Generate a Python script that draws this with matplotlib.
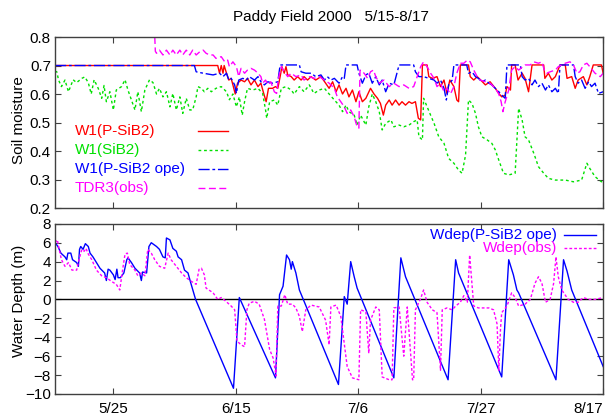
import numpy as np
import matplotlib.pyplot as plt

plt.rcParams['font.family'] = ['Liberation Sans', 'DejaVu Sans']
plt.rcParams['font.size'] = 11

# x values are days since 5/15
tick_days = [10, 31, 52, 73, 94]
tick_labels = ['5/25', '6/15', '7/6', '7/27', '8/17']

# soil moisture, W1(P-SiB2)
w1_psib2 = np.array([
    (0, 0.70), (27.9, 0.70), (28.2, 0.673), (28.5, 0.70), (28.8, 0.673), (29.0, 0.70),
    (29.4, 0.673), (29.8, 0.649), (30.2, 0.655), (30.5, 0.632), (30.9, 0.60), (31.3, 0.638),
    (31.9, 0.649), (32.5, 0.643), (33.0, 0.655), (33.6, 0.632), (34.2, 0.649), (34.8, 0.626),
    (35.3, 0.638), (35.7, 0.608), (36.2, 0.573), (36.6, 0.62), (37.3, 0.62), (37.8, 0.626),
    (38.2, 0.62), (38.6, 0.661), (38.9, 0.696), (39.3, 0.673), (39.6, 0.696), (39.9, 0.667),
    (40.5, 0.661), (41.0, 0.649), (41.6, 0.661), (42.2, 0.649), (42.7, 0.661), (43.3, 0.649),
    (43.9, 0.661), (44.7, 0.649), (45.6, 0.661), (46.4, 0.638), (47.0, 0.62), (47.6, 0.643),
    (48.2, 0.608), (48.7, 0.632), (49.3, 0.60), (49.9, 0.62), (50.4, 0.59), (51.0, 0.614),
    (51.6, 0.573), (52.1, 0.608), (52.7, 0.573), (53.3, 0.585), (54.1, 0.62), (54.7, 0.60),
    (55.3, 0.585), (55.8, 0.567), (56.3, 0.526), (56.7, 0.561), (57.3, 0.579), (57.8, 0.561),
    (58.4, 0.579), (59.0, 0.561), (59.5, 0.573), (60.1, 0.561), (60.7, 0.573), (61.2, 0.567),
    (61.8, 0.573), (62.3, 0.515), (62.7, 0.509), (63.0, 0.702), (63.8, 0.702), (64.1, 0.661),
    (64.7, 0.655), (65.5, 0.661), (66.1, 0.626), (66.7, 0.649), (67.2, 0.602), (67.7, 0.649),
    (68.4, 0.626), (68.9, 0.579), (69.2, 0.573), (69.5, 0.702), (70.9, 0.702), (71.2, 0.661),
    (71.8, 0.649), (72.4, 0.661), (73.0, 0.649), (73.8, 0.632), (74.6, 0.643), (75.5, 0.62),
    (76.1, 0.602), (76.6, 0.59), (77.2, 0.596), (77.5, 0.626), (78.1, 0.614), (78.3, 0.702),
    (78.9, 0.702), (79.4, 0.649), (80.1, 0.673), (80.6, 0.655), (81.2, 0.608), (81.8, 0.702),
    (83.8, 0.702), (84.0, 0.655), (84.6, 0.673), (85.2, 0.649), (85.8, 0.661), (86.6, 0.702),
    (87.5, 0.702), (87.8, 0.655), (88.6, 0.661), (89.2, 0.62), (89.7, 0.649), (90.6, 0.661),
    (91.2, 0.632), (91.7, 0.661), (92.3, 0.702), (93.7, 0.702), (94.0, 0.673),
])

# soil moisture, W1(SiB2)
w1_sib2 = np.array([
    (0, 0.68), (0.3, 0.678), (0.6, 0.649), (1.1, 0.626), (1.7, 0.649), (2.3, 0.608),
    (3.1, 0.65), (3.7, 0.64), (4.6, 0.655), (5.1, 0.66), (5.7, 0.64), (6.2, 0.60),
    (6.7, 0.65), (7.4, 0.62), (8.0, 0.585), (8.4, 0.63), (8.8, 0.573), (9.4, 0.608),
    (10.0, 0.544), (10.5, 0.614), (11.4, 0.626), (12.0, 0.65), (12.5, 0.614), (13.1, 0.579),
    (13.7, 0.544), (14.2, 0.608), (14.8, 0.538), (15.4, 0.614), (16.2, 0.65), (16.8, 0.64),
    (17.4, 0.60), (17.9, 0.62), (18.5, 0.59), (19.1, 0.608), (19.7, 0.555), (20.2, 0.602),
    (20.8, 0.544), (21.4, 0.59), (21.9, 0.532), (22.5, 0.585), (23.1, 0.544), (23.6, 0.544),
    (24.2, 0.59), (24.5, 0.626), (25.1, 0.62), (25.6, 0.608), (26.2, 0.62), (26.8, 0.608),
    (27.6, 0.62), (28.5, 0.626), (29.4, 0.608), (29.9, 0.58), (30.5, 0.60), (31.1, 0.555),
    (31.6, 0.59), (32.1, 0.526), (32.5, 0.573), (33.0, 0.62), (33.9, 0.614), (34.8, 0.62),
    (35.6, 0.602), (36.1, 0.544), (36.3, 0.515), (36.8, 0.573), (37.6, 0.579), (38.2, 0.561),
    (38.8, 0.62), (39.6, 0.626), (40.5, 0.614), (41.0, 0.60), (41.9, 0.626), (42.7, 0.608),
    (43.6, 0.632), (44.4, 0.602), (45.3, 0.614), (46.2, 0.62), (47.0, 0.60), (47.9, 0.579),
    (48.7, 0.561), (49.3, 0.538), (49.9, 0.561), (50.4, 0.538), (51.3, 0.526), (51.8, 0.491),
    (52.4, 0.526), (53.3, 0.491), (53.8, 0.555), (54.4, 0.60), (55.0, 0.573), (55.6, 0.538),
    (56.1, 0.474), (56.7, 0.497), (57.6, 0.509), (58.1, 0.485), (59.0, 0.491), (59.8, 0.485),
    (60.7, 0.491), (61.5, 0.503), (62.1, 0.509), (62.4, 0.45), (63.0, 0.439), (63.2, 0.585),
    (63.8, 0.555), (64.4, 0.526), (65.0, 0.497), (65.8, 0.45), (66.7, 0.427), (67.5, 0.374),
    (68.4, 0.357), (69.2, 0.333), (69.8, 0.322), (70.4, 0.386), (70.9, 0.579), (71.5, 0.567),
    (72.1, 0.532), (72.6, 0.485), (73.2, 0.45), (74.1, 0.439), (74.9, 0.427), (75.5, 0.404),
    (76.1, 0.368), (76.9, 0.322), (77.8, 0.316), (78.9, 0.322), (79.2, 0.439), (79.5, 0.55),
    (80.1, 0.509), (80.6, 0.45), (81.2, 0.439), (82.1, 0.392), (82.9, 0.345), (83.8, 0.322),
    (84.6, 0.304), (85.8, 0.298), (87.5, 0.298), (88.9, 0.292), (90.3, 0.298), (91.2, 0.357),
    (91.7, 0.339), (92.6, 0.31), (93.7, 0.292), (94.0, 0.295),
])

# soil moisture, W1(P-SiB2 ope)
w1_ope = np.array([
    (0, 0.70), (23.9, 0.70), (24.2, 0.678), (25.4, 0.673), (27.1, 0.667), (28.2, 0.673),
    (28.8, 0.661), (29.4, 0.673), (29.8, 0.649), (30.2, 0.655), (30.8, 0.632), (31.1, 0.602),
    (31.5, 0.649), (32.2, 0.655), (32.8, 0.649), (33.3, 0.661), (34.2, 0.649), (34.8, 0.661),
    (35.3, 0.643), (35.9, 0.632), (36.5, 0.643), (37.3, 0.638), (38.2, 0.643), (38.6, 0.702),
    (41.9, 0.702), (42.2, 0.678), (43.0, 0.673), (43.9, 0.673), (44.7, 0.661), (45.6, 0.667),
    (46.2, 0.649), (46.7, 0.661), (47.3, 0.649), (47.9, 0.655), (48.7, 0.638), (49.3, 0.661),
    (49.6, 0.655), (49.9, 0.702), (51.8, 0.702), (52.1, 0.673), (52.7, 0.638), (53.3, 0.667),
    (53.8, 0.673), (54.4, 0.638), (55.0, 0.661), (55.6, 0.632), (56.1, 0.649), (56.7, 0.608),
    (57.3, 0.638), (58.1, 0.632), (59.0, 0.702), (61.5, 0.702), (61.8, 0.678), (62.4, 0.661),
    (63.2, 0.661), (64.1, 0.655), (65.0, 0.649), (65.5, 0.638), (66.1, 0.649), (66.7, 0.62),
    (67.1, 0.579), (67.5, 0.632), (68.1, 0.649), (68.4, 0.702), (70.6, 0.702), (70.9, 0.673),
    (71.5, 0.678), (72.1, 0.661), (72.6, 0.655), (73.2, 0.643), (73.8, 0.649), (74.4, 0.638),
    (74.9, 0.632), (75.5, 0.62), (76.1, 0.608), (76.6, 0.596), (77.2, 0.585), (77.5, 0.702),
    (79.8, 0.702), (80.1, 0.661), (80.6, 0.649), (81.2, 0.655), (81.8, 0.632), (82.3, 0.649),
    (82.9, 0.626), (83.5, 0.638), (84.1, 0.614), (84.6, 0.632), (85.2, 0.608), (85.8, 0.62),
    (86.3, 0.602), (86.6, 0.702), (88.9, 0.702), (89.2, 0.661), (89.7, 0.638), (90.3, 0.649),
    (90.9, 0.62), (91.5, 0.643), (92.0, 0.626), (92.6, 0.638), (93.2, 0.602), (94.0, 0.608),
])

# soil moisture, TDR3(obs)
tdr3_obs = np.array([
    (17.1, 0.80), (17.2, 0.75), (17.4, 0.743), (17.9, 0.754), (18.5, 0.737), (19.1, 0.754),
    (19.7, 0.737), (20.2, 0.754), (20.8, 0.737), (21.4, 0.754), (21.9, 0.737), (22.5, 0.754),
    (23.1, 0.737), (23.6, 0.754), (24.2, 0.737), (24.8, 0.748), (25.4, 0.754), (25.9, 0.743),
    (26.5, 0.737), (27.1, 0.737), (27.6, 0.725), (28.5, 0.731), (29.1, 0.713), (29.6, 0.719),
    (29.9, 0.696), (30.5, 0.713), (31.1, 0.696), (31.5, 0.661), (31.9, 0.69), (32.5, 0.673),
    (33.0, 0.684), (33.6, 0.69), (34.2, 0.684), (34.8, 0.673), (35.3, 0.661), (35.6, 0.638),
    (36.1, 0.649), (36.5, 0.632), (37.0, 0.643), (37.6, 0.608), (38.0, 0.602), (38.3, 0.655),
    (38.8, 0.696), (39.3, 0.678), (39.9, 0.661), (40.5, 0.673), (41.3, 0.661), (42.2, 0.667),
    (42.7, 0.649), (43.6, 0.661), (44.4, 0.655), (45.3, 0.661), (46.2, 0.649), (47.0, 0.638),
    (47.9, 0.62), (48.4, 0.59), (49.0, 0.573), (49.6, 0.555), (50.1, 0.532), (50.7, 0.544),
    (51.3, 0.52), (51.8, 0.485), (52.1, 0.48), (52.3, 0.684), (53.0, 0.673), (53.6, 0.655),
    (54.1, 0.678), (54.6, 0.684), (55.0, 0.661), (55.6, 0.638), (56.4, 0.649), (57.3, 0.626),
    (58.1, 0.638), (59.0, 0.626), (59.8, 0.632), (60.7, 0.62), (61.5, 0.626), (62.1, 0.661),
    (62.7, 0.696), (63.2, 0.713), (63.8, 0.696), (64.4, 0.673), (65.0, 0.655), (65.5, 0.626),
    (66.1, 0.638), (66.7, 0.608), (67.2, 0.62), (67.8, 0.60), (68.4, 0.626), (68.9, 0.673),
    (69.5, 0.708), (70.1, 0.708), (70.7, 0.719), (71.2, 0.713), (71.8, 0.684), (72.4, 0.661),
    (72.9, 0.649), (73.8, 0.643), (74.6, 0.638), (75.5, 0.62), (76.1, 0.60), (76.5, 0.573),
    (76.8, 0.538), (77.2, 0.573), (77.8, 0.614), (78.3, 0.684), (78.9, 0.696), (79.5, 0.684),
    (80.6, 0.702), (81.5, 0.702), (82.1, 0.713), (82.9, 0.708), (83.5, 0.713), (83.9, 0.684),
    (84.3, 0.673), (84.9, 0.678), (85.8, 0.684), (86.3, 0.696), (87.5, 0.708), (88.3, 0.713),
    (88.9, 0.702), (89.5, 0.673), (90.0, 0.678), (90.6, 0.702), (91.2, 0.708), (91.7, 0.696),
    (92.6, 0.673), (93.5, 0.661), (94.0, 0.673),
])

# water depth, Wdep(P-SiB2 ope)
wdep_ope = np.array([
    (0, 6.0), (0.5, 5.6), (1.0, 4.9), (1.7, 4.5), (2.0, 4.2), (2.2, 4.9), (2.7, 4.9),
    (3.0, 4.2), (3.7, 3.9), (4.0, 3.5), (4.2, 5.3), (4.4, 5.6), (4.8, 5.3), (5.2, 5.9),
    (5.7, 5.6), (6.0, 4.9), (6.5, 4.5), (7.1, 3.9), (7.7, 3.3), (8.5, 2.8), (8.8, 2.0),
    (9.1, 3.2), (9.4, 3.1), (10.0, 2.6), (10.3, 2.1), (10.6, 3.2), (10.8, 2.3), (11.2, 2.3),
    (11.8, 2.8), (12.3, 4.2), (12.5, 4.4), (13.1, 3.9), (13.7, 3.3), (14.5, 2.8), (14.8, 2.0),
    (15.0, 2.9), (15.7, 2.8), (16.1, 5.6), (16.5, 6.0), (17.4, 5.6), (17.9, 5.3), (18.5, 4.5),
    (18.9, 4.4), (19.1, 6.5), (19.7, 6.3), (20.2, 5.4), (20.8, 5.1), (21.1, 4.5), (21.7, 4.2),
    (22.2, 3.1), (22.8, 2.8), (23.2, 1.9), (24.1, 0.0), (30.6, -9.4), (31.6, 0.2), (37.8, -8.3),
    (38.5, 0.5), (39.1, 1.4), (39.7, 4.7), (40.2, 4.2), (40.5, 3.2), (40.7, 4.0), (41.3, 2.8),
    (41.9, 1.0), (48.6, -9.0), (49.6, 0.3), (50.1, -0.5), (50.7, 4.0), (51.3, 2.4), (51.8, 1.2),
    (58.1, -8.3), (59.3, 4.4), (60.1, 2.4), (67.4, -8.5), (68.7, 4.2), (69.2, 2.8), (76.6, -8.2),
    (77.8, 4.2), (78.6, 2.6), (79.2, 1.0), (79.5, 0.7), (85.9, -8.5), (87.2, 4.2), (87.8, 3.0),
    (88.6, 1.0), (94.0, -7.1),
])

# water depth, Wdep(obs)
wdep_obs = np.array([
    (0, 6.0), (0.4, 6.3), (0.7, 5.3), (1.1, 4.2), (1.7, 3.5), (2.3, 3.9), (2.9, 3.1),
    (3.7, 3.1), (4.1, 4.2), (4.6, 5.3), (5.0, 5.1), (5.3, 5.4), (5.7, 4.8), (6.3, 4.2),
    (7.1, 3.1), (8.0, 2.5), (8.8, 2.3), (9.7, 1.9), (10.5, 1.6), (11.1, 1.0), (11.6, 3.2),
    (12.0, 4.8), (12.4, 4.9), (12.8, 3.7), (13.7, 3.1), (14.2, 2.5), (14.8, 2.8), (15.4, 2.5),
    (15.9, 5.3), (16.5, 4.9), (17.1, 4.2), (17.9, 3.5), (18.8, 3.3), (19.4, 4.9), (19.9, 4.2),
    (20.8, 3.5), (21.7, 2.8), (22.5, 2.3), (23.4, 1.9), (24.2, 1.6), (24.7, 3.2), (25.1, 3.3),
    (25.6, 2.6), (25.9, 1.2), (27.1, 0.7), (27.9, 0.0), (28.5, 0.2), (29.3, -0.2), (30.2, -0.7),
    (30.8, -1.1), (31.2, -4.4), (31.9, -4.8), (32.5, -5.0), (32.9, -1.1), (33.3, -0.4),
    (34.2, -0.2), (35.0, -0.5), (35.9, -2.1), (36.8, -5.3), (37.4, -6.2), (37.9, -8.1),
    (38.2, -0.7), (38.8, -0.7), (39.4, 0.5), (39.9, -0.5), (40.7, -0.5), (41.3, -0.9),
    (41.9, -1.8), (42.4, -3.4), (43.0, -1.1), (43.9, -0.6), (45.3, -0.8), (46.4, -2.2),
    (47.0, -4.8), (47.3, -0.8), (48.2, -0.6), (49.0, -1.8), (50.1, -7.1), (51.0, -8.3),
    (52.1, -8.5), (52.4, -1.1), (53.3, -1.3), (53.8, -5.7), (54.1, -2.2), (55.0, -0.8),
    (55.6, -1.1), (56.1, -8.2), (57.3, -8.5), (57.8, -8.5), (58.1, -0.9), (59.0, -0.8),
    (59.8, -6.0), (60.4, -0.8), (61.3, -8.5), (61.5, -8.5), (61.8, -1.1), (62.7, 0.1),
    (63.2, 1.0), (63.8, -0.3), (64.7, -1.1), (65.5, -1.4), (66.1, -7.5), (66.4, -1.1),
    (67.2, -0.9), (68.1, -1.1), (68.7, -0.7), (69.5, -0.3), (70.1, 0.4), (70.7, -0.3),
    (71.1, 4.7), (71.4, 2.4), (71.8, -0.7), (72.6, -0.9), (74.4, -0.9), (75.2, -1.1),
    (75.8, -2.6), (76.1, -7.5), (76.4, -3.0), (76.6, -1.4), (77.5, -0.7), (78.3, 0.7),
    (78.9, 0.2), (79.5, -0.7), (80.6, -0.5), (81.5, 0.0), (82.3, 1.7), (82.9, 2.4),
    (83.5, 1.7), (84.1, -0.3), (84.9, 0.0), (85.5, 1.7), (85.9, 4.5), (86.3, 2.4),
    (86.9, 1.0), (88.0, 0.0), (88.9, -0.3), (89.7, -0.3), (90.6, 0.2), (91.5, 0.0),
    (92.6, 0.0), (94.0, 0.2),
])

red = '#ff0000'
green = '#00e000'
blue = '#0000ff'
magenta = '#ff00ff'
edge = '#404040'

fig = plt.figure(figsize=(6.05, 4.16), dpi=100)
ax1 = fig.add_axes([0.091, 0.5, 0.906, 0.411])
ax2 = fig.add_axes([0.091, 0.053, 0.906, 0.409])

# top panel
ax1.plot(w1_psib2[:, 0], w1_psib2[:, 1], color=red, lw=1)
ax1.plot(w1_sib2[:, 0], w1_sib2[:, 1], color=green, lw=1, dashes=(2, 2))
ax1.plot(w1_ope[:, 0], w1_ope[:, 1], color=blue, lw=1, dashes=(8, 2, 2, 2))
ax1.plot(tdr3_obs[:, 0], tdr3_obs[:, 1], color=magenta, lw=1, dashes=(5, 2.5))

legend_top = [('W1(P-SiB2)', red, None), ('W1(SiB2)', green, (2, 2)),
              ('W1(P-SiB2 ope)', blue, (8, 2, 2, 2)), ('TDR3(obs)', magenta, (5, 2.5))]
for i, (lab, c, ds) in enumerate(legend_top):
    yy = 0.45 - i * 0.111
    ax1.text(0.036, yy, lab, color=c, transform=ax1.transAxes, va='center', ha='left')
    ln, = ax1.plot([0.26, 0.315], [yy, yy], color=c, lw=1, transform=ax1.transAxes)
    if ds:
        ln.set_dashes(ds)

ax1.set_xlim(0, 94)
ax1.set_ylim(0.2, 0.8)
ax1.set_yticks(np.arange(0.2, 0.81, 0.1))
ax1.set_yticklabels(['0.2', '0.3', '0.4', '0.5', '0.6', '0.7', '0.8'])
ax1.set_xticks(tick_days)
ax1.set_xticklabels([])

# bottom panel
ax2.axhline(0, color='black', lw=1)
ax2.plot(wdep_ope[:, 0], wdep_ope[:, 1], color=blue, lw=1)
ax2.plot(wdep_obs[:, 0], wdep_obs[:, 1], color=magenta, lw=1, dashes=(2, 1.5))

legend_bot = [('Wdep(P-SiB2 ope)', blue, None), ('Wdep(obs)', magenta, (2, 1.5))]
for i, (lab, c, ds) in enumerate(legend_bot):
    yy = 0.935 - i * 0.076
    ax2.text(0.916, yy, lab, color=c, transform=ax2.transAxes, va='center', ha='right')
    ln, = ax2.plot([0.929, 0.987], [yy, yy], color=c, lw=1, transform=ax2.transAxes)
    if ds:
        ln.set_dashes(ds)

ax2.set_xlim(0, 94)
ax2.set_ylim(-10, 8)
ax2.set_yticks(np.arange(-10, 9, 2))
ax2.set_xticks(tick_days)
ax2.set_xticklabels(tick_labels)
# last date sits on the right edge; keep it inside the picture
ax2.get_xticklabels()[-1].set_ha('right')

for ax in (ax1, ax2):
    ax.tick_params(direction='in', top=True, right=True, length=4, width=0.8,
                   color=edge, labelsize=11, pad=3)
    ax.tick_params(axis='x', pad=6)
    for s in ax.spines.values():
        s.set_color(edge)
        s.set_linewidth(1)

fig.text(0.547, 0.958, 'Paddy Field 2000   5/15-8/17', ha='center', va='center', fontsize=11)
fig.text(0.031, 0.712, 'Soil moisture', rotation=90, ha='center', va='center', fontsize=11)
fig.text(0.031, 0.276, 'Water Depth (m)', rotation=90, ha='center', va='center', fontsize=11)

fig.savefig('out.png', dpi=100)
